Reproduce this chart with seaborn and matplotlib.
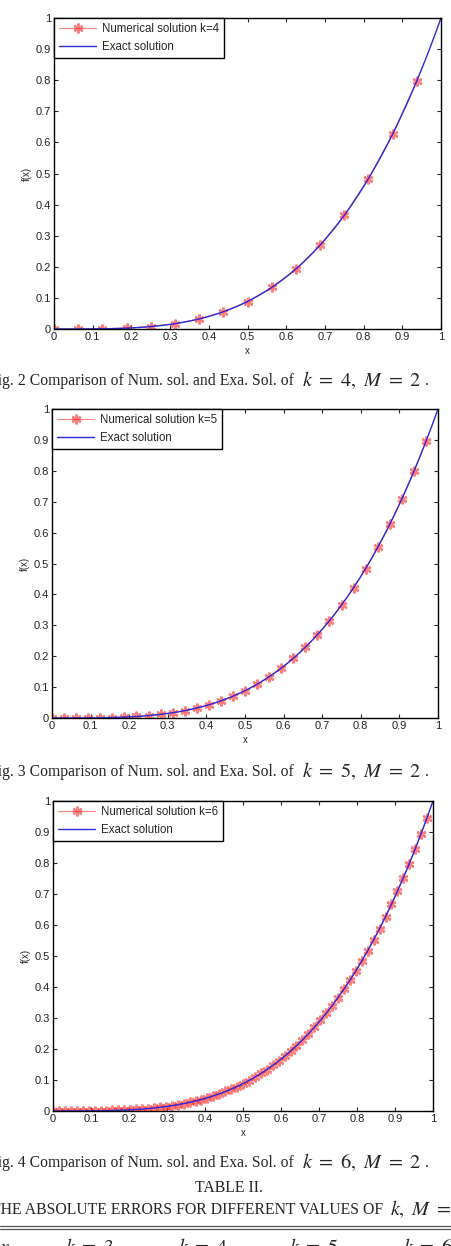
import numpy as np
import matplotlib
matplotlib.use("Agg")
import matplotlib.pyplot as plt
from matplotlib.lines import Line2D
import seaborn as sns

# values: f(x) on a 1/64 grid, x = 0 .. 1
exact_y = [0, 0, 0, 0, 0.0001, 0.0001, 0.0003, 0.0004, 0.0007, 0.0010,
           0.0015, 0.0021, 0.0029, 0.0038, 0.0049, 0.0062, 0.0078, 0.0097,
           0.0118, 0.0143, 0.0171, 0.0202, 0.0238, 0.0278, 0.0323, 0.0373,
           0.0427, 0.0488, 0.0554, 0.0626, 0.0705, 0.0791, 0.0884, 0.0984,
           0.1093, 0.1210, 0.1335, 0.1469, 0.1613, 0.1766, 0.1930, 0.2104,
           0.2290, 0.2486, 0.2695, 0.2915, 0.3148, 0.3394, 0.3654, 0.3927,
           0.4215, 0.4517, 0.4835, 0.5168, 0.5518, 0.5883, 0.6267, 0.6667,
           0.7086, 0.7522, 0.7978, 0.8454, 0.8949, 0.9464, 1.0]

# numerical solutions (collocation points j/2^k)
num_k4 = [0, 0.0001, 0.0007, 0.0029, 0.0078, 0.0171, 0.0323, 0.0554,
          0.0884, 0.1335, 0.1930, 0.2695, 0.3654, 0.4835, 0.6267, 0.7978]
num_k5 = [0, 0, 0.0001, 0.0003, 0.0007, 0.0015, 0.0029, 0.0049, 0.0078,
          0.0118, 0.0171, 0.0238, 0.0323, 0.0427, 0.0554, 0.0705, 0.0884,
          0.1093, 0.1335, 0.1613, 0.1930, 0.2290, 0.2695, 0.3148, 0.3654,
          0.4215, 0.4835, 0.5518, 0.6267, 0.7086, 0.7978, 0.8949]
num_k6 = [0, 0, 0, 0, 0, 0, 0, 0, 0.001, 0.001, 0.002, 0.002, 0.003, 0.004,
          0.005, 0.006, 0.008, 0.010, 0.012, 0.014, 0.017, 0.020, 0.024,
          0.028, 0.032, 0.037, 0.043, 0.049, 0.055, 0.063, 0.071, 0.079,
          0.088, 0.098, 0.109, 0.121, 0.133, 0.147, 0.161, 0.177, 0.193,
          0.210, 0.229, 0.249, 0.270, 0.292, 0.315, 0.339, 0.365, 0.393,
          0.421, 0.452, 0.483, 0.517, 0.552, 0.588, 0.627, 0.667, 0.709,
          0.752, 0.798, 0.845, 0.895, 0.946]

panels = [("k=4", num_k4, "2", "4"), ("k=5", num_k5, "3", "5"), ("k=6", num_k6, "4", "6")]
ticks = [0, 0.1, 0.2, 0.3, 0.4, 0.5, 0.6, 0.7, 0.8, 0.9, 1]
tick_labels = ["0", "0.1", "0.2", "0.3", "0.4", "0.5", "0.6", "0.7", "0.8", "0.9", "1"]
table_cols = ["$x$", "$k\\ =\\ 3$", "$k\\ =\\ 4$", "$k\\ =\\ 5$", "$k\\ =\\ 6$"]

sns.set_style("ticks")
plt.rcParams["font.family"] = ["Liberation Sans", "DejaVu Sans"]
plt.rcParams["mathtext.fontset"] = "stix"

W, H = 451, 1246
fig = plt.figure(figsize=(W / 100, H / 100), dpi=100)
fig.patch.set_facecolor("white")

# axes boxes in pixels: left, right, top, bottom
boxes = [(54, 441, 18, 329), (52, 438, 409, 718), (53, 433, 801, 1111)]
captions_y = [381, 772, 1163]
red = "#ff3a3a"

x_exact = np.arange(len(exact_y)) / 64

for (lab, num, fig_no, kval), (l, r, t, b), cy in zip(panels, boxes, captions_y):
    ax = fig.add_axes([l / W, 1 - b / H, (r - l) / W, (b - t) / H])
    x_num = np.arange(len(num)) / len(num)
    sns.lineplot(x=x_num, y=num, ax=ax, color=red, alpha=0.65,
                 linewidth=0.8, marker=(6, 2, 0), markersize=7, mew=1.7,
                 markeredgecolor=red, markerfacecolor=red,
                 estimator=None, sort=False, label="Numerical solution " + lab)
    sns.lineplot(x=x_exact, y=exact_y, ax=ax, color="#2a2ad8", linewidth=1.0,
                 estimator=None, sort=False, label="Exact solution")
    ax.set_xlim(0, 1)
    ax.set_ylim(0, 1)
    ax.set_xticks(ticks)
    ax.set_yticks(ticks)
    ax.set_xticklabels(tick_labels)
    ax.set_yticklabels(tick_labels)
    ax.tick_params(direction="in", length=3, width=0.8, top=True, right=True,
                   labelsize=8, pad=2, labelcolor="#222222")
    for s in ax.spines.values():
        s.set_linewidth(1.0)
        s.set_color("black")
    ax.set_xlabel("x", fontsize=7, labelpad=3)
    ax.set_ylabel("f(x)", fontsize=7, labelpad=3)
    leg = ax.legend(loc="upper left", bbox_to_anchor=(0, 1), borderaxespad=0,
                    fancybox=False, framealpha=1, edgecolor="black",
                    fontsize=8.3, handlelength=3.2, handletextpad=0.5,
                    labelspacing=0.5, borderpad=0.45)
    leg.get_frame().set_linewidth(1.0)

    # figure caption under each plot (page text, cut at the left edge)
    fig.text(294 / W, 1 - cy / H,
             "Fig. " + fig_no + " Comparison of Num. sol. and Exa. Sol. of",
             ha="right", va="center", fontsize=11.3, family="Liberation Serif")
    fig.text(302 / W, 1 - (cy - 1) / H, "$k\\ =\\ " + kval + ",\\ M\\ =\\ 2$",
             ha="left", va="center", fontsize=14.6)
    fig.text(425 / W, 1 - cy / H, ".", ha="left", va="center", fontsize=11.3,
             family="Liberation Serif")

# table header at the bottom of the page
fig.text(229 / W, 1 - 1188 / H, "TABLE II.", ha="center", va="center",
         fontsize=11.3, family="Liberation Serif")
fig.text(383 / W, 1 - 1210 / H, "THE ABSOLUTE ERRORS FOR DIFFERENT VALUES OF",
         ha="right", va="center", fontsize=11.3, family="Liberation Serif")
fig.text(390 / W, 1 - 1209 / H, "$k,\\ M\\ =\\ 2$", ha="left", va="center", fontsize=14.6)
for yy in (1226, 1229):
    fig.add_artist(Line2D([0, 1], [1 - yy / H, 1 - yy / H], color="#555555",
                          linewidth=0.9, transform=fig.transFigure))
for cx, txt in zip([5, 90, 203, 314, 428], table_cols):
    fig.text(cx / W, 1 - 1253 / H, txt, ha="center", va="baseline", fontsize=14.6)

fig.savefig("out.png", dpi=100)
